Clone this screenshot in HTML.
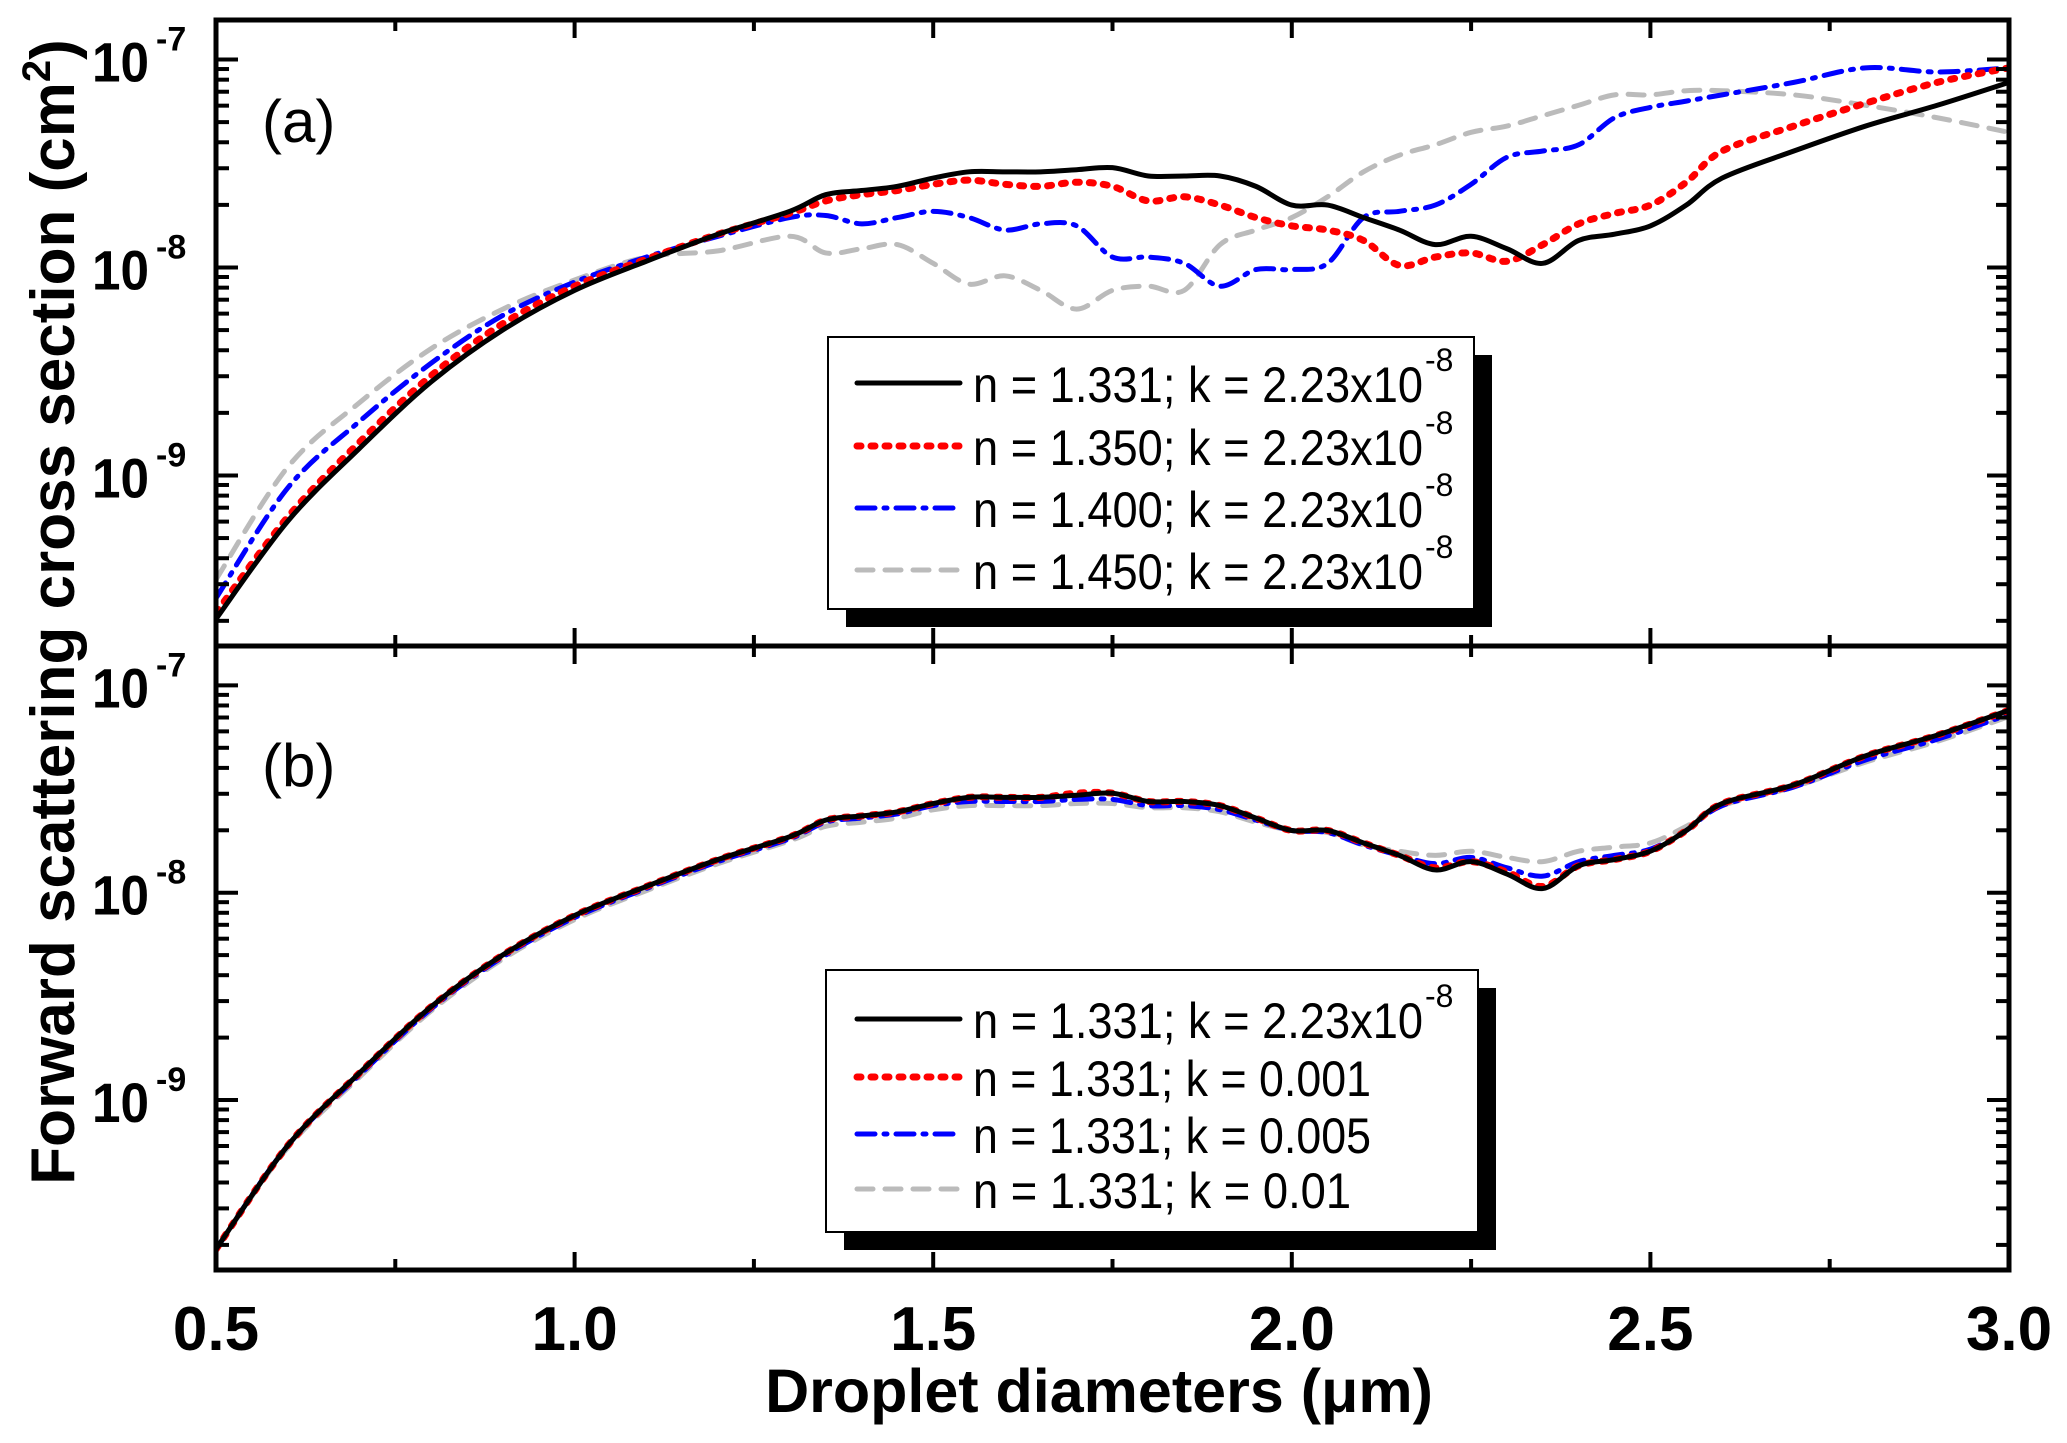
<!DOCTYPE html>
<html><head><meta charset="utf-8"><style>html,body{margin:0;padding:0;background:#fff}svg{display:block}</style></head>
<body>
<svg id="chart" width="2067" height="1443" viewBox="0 0 2067 1443" xmlns="http://www.w3.org/2000/svg" font-family="Liberation Sans, Arial, sans-serif"></svg>
<script>
const xs = [0.5,0.6,0.7,0.8,0.9,1.0,1.1,1.2,1.3,1.35,1.4,1.45,1.5,1.55,1.6,1.65,1.7,1.75,1.8,1.85,1.9,1.95,2.0,2.05,2.1,2.15,2.2,2.25,2.3,2.35,2.4,2.45,2.5,2.55,2.6,2.7,2.8,2.9,3.0];
// log10 of cross section (cm^2)
const aBlack = [-9.69,-9.22,-8.87,-8.55,-8.30,-8.11,-7.97,-7.84,-7.73,-7.65,-7.63,-7.61,-7.57,-7.54,-7.54,-7.54,-7.53,-7.52,-7.56,-7.56,-7.56,-7.61,-7.70,-7.70,-7.76,-7.82,-7.89,-7.85,-7.91,-7.98,-7.87,-7.84,-7.80,-7.70,-7.57,-7.44,-7.32,-7.22,-7.11];
const aRed = [-9.66,-9.20,-8.84,-8.52,-8.27,-8.09,-7.96,-7.84,-7.74,-7.68,-7.65,-7.63,-7.60,-7.58,-7.60,-7.61,-7.59,-7.61,-7.68,-7.66,-7.70,-7.76,-7.80,-7.82,-7.87,-7.99,-7.95,-7.93,-7.97,-7.89,-7.79,-7.74,-7.70,-7.59,-7.44,-7.32,-7.21,-7.11,-7.04];
const aBlue = [-9.59,-9.06,-8.74,-8.46,-8.23,-8.07,-7.95,-7.85,-7.76,-7.75,-7.79,-7.76,-7.73,-7.76,-7.82,-7.79,-7.80,-7.95,-7.95,-7.98,-8.09,-8.01,-8.01,-7.98,-7.76,-7.73,-7.70,-7.60,-7.47,-7.44,-7.41,-7.28,-7.23,-7.20,-7.17,-7.11,-7.04,-7.06,-7.04];
const aGray = [-9.50,-8.96,-8.65,-8.39,-8.20,-8.06,-7.95,-7.92,-7.85,-7.93,-7.91,-7.89,-7.98,-8.08,-8.04,-8.11,-8.20,-8.11,-8.09,-8.11,-7.89,-7.82,-7.76,-7.66,-7.54,-7.46,-7.41,-7.35,-7.32,-7.27,-7.22,-7.17,-7.17,-7.15,-7.15,-7.17,-7.22,-7.28,-7.35];
const bBlack = [-9.72,-9.22,-8.87,-8.55,-8.30,-8.11,-7.97,-7.84,-7.73,-7.65,-7.63,-7.61,-7.57,-7.54,-7.54,-7.54,-7.53,-7.52,-7.56,-7.56,-7.58,-7.64,-7.70,-7.70,-7.76,-7.82,-7.89,-7.85,-7.91,-7.98,-7.87,-7.84,-7.80,-7.70,-7.57,-7.48,-7.34,-7.24,-7.12];
const bRed = [-9.72,-9.22,-8.87,-8.55,-8.30,-8.11,-7.97,-7.84,-7.73,-7.65,-7.63,-7.61,-7.57,-7.54,-7.54,-7.54,-7.52,-7.52,-7.56,-7.56,-7.58,-7.64,-7.70,-7.70,-7.76,-7.82,-7.88,-7.85,-7.90,-7.97,-7.87,-7.84,-7.80,-7.70,-7.57,-7.48,-7.34,-7.24,-7.12];
const bBlue = [-9.72,-9.22,-8.88,-8.56,-8.31,-8.12,-7.98,-7.85,-7.74,-7.66,-7.64,-7.62,-7.58,-7.56,-7.56,-7.56,-7.55,-7.55,-7.58,-7.58,-7.60,-7.65,-7.70,-7.71,-7.77,-7.82,-7.86,-7.83,-7.88,-7.92,-7.85,-7.82,-7.79,-7.70,-7.58,-7.49,-7.36,-7.26,-7.14];
const bGray = [-9.72,-9.23,-8.89,-8.57,-8.32,-8.13,-7.99,-7.86,-7.75,-7.68,-7.66,-7.64,-7.60,-7.58,-7.58,-7.58,-7.57,-7.57,-7.59,-7.59,-7.61,-7.66,-7.70,-7.71,-7.77,-7.80,-7.82,-7.80,-7.83,-7.85,-7.80,-7.78,-7.76,-7.68,-7.58,-7.49,-7.37,-7.27,-7.15];
const xTicks = ['0.5','1.0','1.5','2.0','2.5','3.0'];
const yDecades = [-7,-8,-9];
const legendA = ['n = 1.331; k = 2.23x10','n = 1.350; k = 2.23x10','n = 1.400; k = 2.23x10','n = 1.450; k = 2.23x10'];
const legendB = ['n = 1.331; k = 2.23x10','n = 1.331; k = 0.001','n = 1.331; k = 0.005','n = 1.331; k = 0.01'];
const legendBsup = ['-8','','',''];

const NS='http://www.w3.org/2000/svg';
const svg=document.getElementById('chart');
const L=216,R=2009,X0=0.5,X1=3.0,YMAX=-6.81,YMIN=-9.82;
const panels=[{top:20,bot:646},{top:646,bot:1270}];
function sx(v){return L+(v-X0)/(X1-X0)*(R-L);}
function sy(p,lv){const P=panels[p];return P.top+(YMAX-lv)/(YMAX-YMIN)*(P.bot-P.top);}
function mk(tag,attrs,parent){const e=document.createElementNS(NS,tag);for(const k in attrs)e.setAttribute(k,attrs[k]);(parent||svg).appendChild(e);return e;}

const styles=[
 {stroke:'#000',dash:'',cap:'round',w:5},
 {stroke:'#f00',dash:'4 10',cap:'round',w:7},
 {stroke:'#00f',dash:'18 9 3 9',cap:'round',w:5},
 {stroke:'#bbb',dash:'16 12',cap:'round',w:5}
];
const series=[[aBlack,aRed,aBlue,aGray],[bBlack,bRed,bBlue,bGray]];
const names=['black','red','blue','gray'];

const defs=mk('defs',{});
panels.forEach((P,i)=>{const c=mk('clipPath',{id:'clip'+i},defs);mk('rect',{x:L,y:P.top,width:R-L,height:P.bot-P.top},c);});

panels.forEach((P,pi)=>{
  const g=mk('g',{'clip-path':'url(#clip'+pi+')'});
  
  
  [3,2,1,0].forEach(si=>{
    const s=series[pi][si];
    let d='';
    for(let i=0;i<xs.length;i++){
      const x=sx(xs[i]),y=sy(pi,s[i]);
      if(i===0){d+='M'+x+','+y;}
      else{
        const x0=sx(xs[i-1]),y0=sy(pi,s[i-1]);
        const xp=i>1?sx(xs[i-2]):x0, yp=i>1?sy(pi,s[i-2]):y0;
        const xn=i<xs.length-1?sx(xs[i+1]):x, yn=i<xs.length-1?sy(pi,s[i+1]):y;
        const c1x=x0+(x-xp)/6,c1y=y0+(y-yp)/6,c2x=x-(xn-x0)/6,c2y=y-(yn-y0)/6;
        d+=' C'+c1x+','+c1y+' '+c2x+','+c2y+' '+x+','+y;
      }
    }
    const st=styles[si];
    const p=mk('path',{d:d,fill:'none',stroke:st.stroke,'stroke-width':st.w,'stroke-dasharray':st.dash,'stroke-linecap':st.cap,'stroke-linejoin':'round'},g);
    
    
  });
});

panels.forEach((P,pi)=>{
  const ax=mk('g',{});
  
  
  mk('rect',{x:L,y:P.top,width:R-L,height:P.bot-P.top,fill:'none',stroke:'#000','stroke-width':5},ax);
  for(let k=0;k<=10;k++){
    const v=X0+k*0.25,x=sx(v),len=(k%2===0)?18:11;
    mk('line',{x1:x,y1:P.bot,x2:x,y2:P.bot-len,stroke:'#000','stroke-width':4},ax);
    mk('line',{x1:x,y1:P.top,x2:x,y2:P.top+len,stroke:'#000','stroke-width':4},ax);
  }
  for(let dec=-10;dec<=-7;dec++){
    for(let m=1;m<=9;m++){
      const lv=dec+Math.log10(m);
      if(lv<YMIN||lv>YMAX)continue;
      const y=sy(pi,lv),len=m===1?22:13;
      mk('line',{x1:L,y1:y,x2:L+len,y2:y,stroke:'#000','stroke-width':4},ax);
      mk('line',{x1:R,y1:y,x2:R-len,y2:y,stroke:'#000','stroke-width':4},ax);
    }
  }
  yDecades.forEach(dv=>{
    const y=sy(pi,dv);
    const t=mk('text',{x:149,y:y+22,'text-anchor':'end','font-size':56,'font-weight':'bold'},ax);
    
    
    t.setAttribute('textLength',57);
    t.setAttribute('lengthAdjust','spacingAndGlyphs');
    t.textContent='10';
    const s=mk('text',{x:156,y:y-9,'text-anchor':'start','font-size':34,'font-weight':'bold'},ax);
    
    
    s.textContent=String(dv);
  });
  const pl=mk('text',{x:262,y:pi?786:142,'font-size':60},ax);
  
  
  pl.textContent=pi?'(b)':'(a)';
});

xTicks.forEach(t=>{
  const e=mk('text',{x:sx(parseFloat(t)),y:1350,'text-anchor':'middle','font-size':62,'font-weight':'bold'});
  
  
  e.textContent=t;
});
const xt=mk('text',{x:1099,y:1412,'text-anchor':'middle','font-size':61,'font-weight':'bold'});


xt.textContent='Droplet diameters (\u03bcm)';
const yt=mk('text',{transform:'translate(74,612) rotate(-90)','text-anchor':'middle','font-size':62,'font-weight':'bold'});


yt.innerHTML='Forward scattering cross section (cm<tspan dy="-24" font-size="40">2</tspan><tspan dy="24">)</tspan>';

function legend(bx,by,bw,bh,labels,sups,rows,nm){
  const g=mk('g',{});
  
  
  mk('rect',{x:bx+18,y:by+18,width:bw,height:bh,fill:'#000'},g);
  mk('rect',{x:bx,y:by,width:bw,height:bh,fill:'#fff',stroke:'#000','stroke-width':2},g);
  labels.forEach((lab,i)=>{
    const y=rows[i],st=styles[i];
    mk('line',{x1:857,y1:y,x2:960,y2:y,stroke:st.stroke,'stroke-width':st.w,'stroke-dasharray':st.dash,'stroke-linecap':'round'},g);
    const t=mk('text',{x:973,y:y+19,'font-size':50},g);
    
    
    const w = sups[i]? 450 : (lab.length*19.9);
    t.setAttribute('textLength',w);
    t.setAttribute('lengthAdjust','spacingAndGlyphs');
    t.textContent=lab;
    if(sups[i]){
      const s=mk('text',{x:973+w+2,y:y-12,'font-size':32},g);
      
      
      s.textContent=sups[i];
    }
  });
}
legend(828,337,646,272,legendA,['-8','-8','-8','-8'],[383,446,508,570],'legend-a');
legend(826,970,652,262,legendB,legendBsup,[1019,1077,1134,1189],'legend-b');
</script>
</body></html>
